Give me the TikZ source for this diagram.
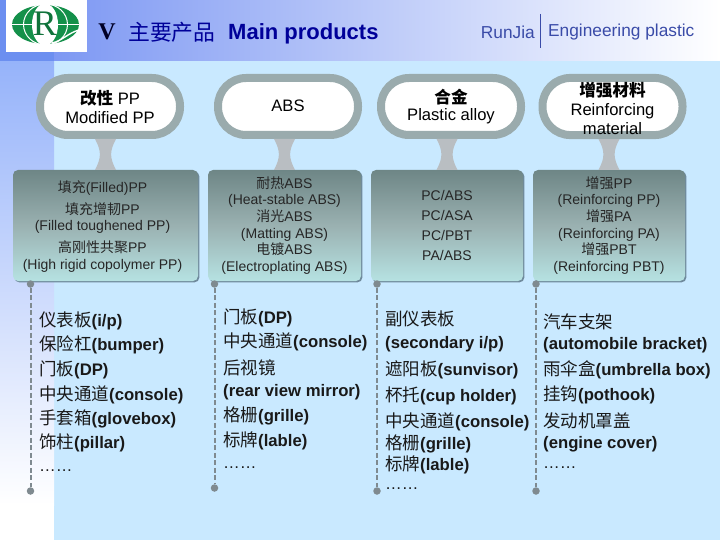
\documentclass[tikz,border=0pt]{standalone}
\usepackage{fontspec}
\usepackage{xcolor}
\setmainfont{Liberation Sans}
\newfontfamily\cjk{Noto Sans CJK SC}
\newcommand{\zh}[1]{{\cjk #1}}
\newcommand{\zhitem}[1]{{\cjk\mdseries\fontsize{17.5}{20}\selectfont #1}}
\usetikzlibrary{calc,shadows}
\definecolor{rjBand}{HTML}{7390F2}
\definecolor{rjCorner}{HTML}{6C8FF0}
\definecolor{rjStrip}{HTML}{96B3FA}
\definecolor{rjPaper}{HTML}{C9E9FF}
\definecolor{rjNavy}{HTML}{000099}
\definecolor{rjSlate}{HTML}{3A4BA8}
\definecolor{rjRing}{HTML}{9AABAD}
\definecolor{rjStem}{HTML}{B9BEC2}
\definecolor{rjBoxTop}{HTML}{6E8686}
\definecolor{rjBoxMid}{HTML}{9AB1B1}
\definecolor{rjBoxEnd}{HTML}{B6E2E2}
\definecolor{rjEdge}{HTML}{6F8A9C}
\definecolor{rjDash}{HTML}{7F8A90}
\definecolor{rjGreen}{HTML}{14904A}
\tikzset{
    every picture/.style={x=1pt, y=-1pt},
    head/.style={draw=rjRing, line width=8pt, fill=white, rounded corners=28pt, align=center, minimum width=140pt, minimum height=57pt, inner sep=0pt, text=black, font=\fontsize{16.6}{19}\selectfont},
    grade/.style={rounded corners=5pt, top color=rjBoxTop, bottom color=rjBoxEnd, middle color=rjBoxMid, general shadow={shadow xshift=1.4pt, shadow yshift=-1.4pt, fill=rjEdge}, align=center, inner sep=0pt, minimum height=111pt, text=black!85, font=\fontsize{14}{16.7}\selectfont},
    gradetext/.style={align=center, inner sep=0pt, text=black!85, font=\fontsize{14}{16.7}\selectfont},
    item/.style={anchor=west, inner sep=0pt, text=black!90, font=\fontsize{16.7}{20}\selectfont\bfseries},
    stem/.style={fill=rjStem},
    dot/.style={circle, fill=rjDash, inner sep=0pt, minimum size=7.5pt},
    dashline/.style={draw=rjDash, line width=2pt, dash pattern=on 5pt off 2.5pt}
}
\begin{document}
\begin{tikzpicture}
\useasboundingbox (0,0) rectangle (720,540);
% background
\fill[rjPaper] (0,61) rectangle (720,540);
\shade[top color=rjStrip, bottom color=white] (0,61) rectangle (54,505);
\fill[white] (0,505) rectangle (54,540);
\shade[left color=rjBand, right color=white] (0,0) rectangle (720,61);
\fill[rjCorner] (0,0) rectangle (54,61);
% logo
\fill[white] (6,0) rectangle (87,52);
\fill[rjGreen] (45.5,24.5) ellipse (33.5 and 19.5);
\draw[white, line width=0.5pt] (12,24.5) -- (79,24.5);
\draw[white, line width=1pt] (45.5,24.5) ellipse (22 and 20.5);
\fill[white] (45,24.5) ellipse (13 and 21);
\node[inner sep=0pt, text=rjGreen!80!black, font=\fontsize{36}{36}\selectfont] (logoR) at (45,24) {\fontspec{Liberation Serif}R};
\draw[white, line width=1.4pt] (52,43) .. controls (62,41) and (68,33) .. (79,30);
% title
\node[inner sep=0pt, text=black!75!rjNavy, font=\fontsize{24}{26}\selectfont\bfseries] (roman) at (107,32) {\fontspec{Liberation Serif}V};
\node[anchor=west, inner sep=0pt, text=rjNavy, font=\fontsize{21.8}{24}\selectfont] (titlezh) at (128,32) {\zh{主要产品}};
\node[anchor=west, inner sep=0pt, text=rjNavy, font=\fontsize{22}{24}\selectfont\bfseries] (titleen) at (228,34) {Main products};
\node[anchor=east, inner sep=0pt, text=rjSlate, font=\fontsize{17.3}{20}\selectfont] (brand) at (535,32) {RunJia};
\node[anchor=west, inner sep=0pt, text=rjSlate, font=\fontsize{17.3}{20}\selectfont] (topic) at (548,32) {Engineering plastic};
\coordinate (ruleTop) at (540.5,14);
\coordinate (ruleEnd) at (540.5,48);
\draw[rjSlate, line width=0.8pt] (ruleTop) -- (ruleEnd);
% top row
\node[head] (headpp) at (110,106.5) {\zh{\bfseries 改性} PP\\Modified PP};
\node[head] (headabs) at (288,106.5) {\raisebox{1.5pt}{ABS}};
\node[head] (headalloy) at (451,106.5) {\zh{\bfseries 合金}\\[-2pt]Plastic alloy};
\node[head] (headreinf) at (612.5,106.5) {\rule{0pt}{19pt}\zh{\bfseries 增强材料}\\Reinforcing\\material};
% grades
\node[grade, minimum width=185pt] (gradepp) at (105.5,225.5) {};
\node[gradetext] (textpp) at ($(gradepp)+(-3,1)$) {\zh{填充}(Filled)PP\\[5pt]\zh{填充增韧}PP\\(Filled toughened PP)\\[5pt]\zh{高刚性共聚}PP\\(High rigid copolymer PP)};
\node[grade, minimum width=153pt] (gradeabs) at (284.5,225.5) {\zh{耐热}ABS\\(Heat-stable ABS)\\\zh{消光}ABS\\(Matting ABS)\\\zh{电镀}ABS\\(Electroplating ABS)};
\node[grade, minimum width=152pt, font=\fontsize{14}{20}\selectfont] (gradealloy) at (447,225.5) {PC/ABS\\PC/ASA\\PC/PBT\\PA/ABS};
\node[grade, minimum width=152pt] (gradereinf) at (609,225.5) {\zh{增强}PP\\(Reinforcing PP)\\\zh{增强}PA\\(Reinforcing PA)\\\zh{增强}PBT\\(Reinforcing PBT)};
% stems
\foreach \col in {pp,abs,alloy,reinf} {
    \fill[stem] ($(grade\col.north |- head\col.south)+(-10.5,0)$) .. controls ($(grade\col.north |- head\col.south)+(-4,12)$) and ($(grade\col.north)+(-4,-12)$) .. ($(grade\col.north)+(-10.5,0)$) -- ($(grade\col.north)+(10.5,0)$) .. controls ($(grade\col.north)+(4,-12)$) and ($(grade\col.north |- head\col.south)+(4,12)$) .. ($(grade\col.north |- head\col.south)+(10.5,0)$) -- cycle;
}
% dashed rails
\foreach \col/\x/\ytop/\yend in {pp/30.5/284/491,abs/214.5/284/488,alloy/377/284/491,reinf/536/284/491} {
    \node[dot] (\col top) at (\x,\ytop) {};
    \node[dot] (\col end) at (\x,\yend) {};
    \draw[dashline] (\col top) -- (\col end);
}
% lists
\foreach \n/\y/\zhtxt/\entxt in {1/321/仪表板/{(i/p)},2/345/保险杠/(bumper),3/370/门板/(DP),4/395/中央通道/(console),5/419/手套箱/(glovebox),6/443/饰柱/(pillar)}
    \node[item] (pp\n) at (39,\y) {\zhitem{\zhtxt}\entxt};
\node[item] (ppdots) at (39,471) {\mdseries ……};
\foreach \n/\y/\zhtxt/\entxt in {1/318/门板/(DP),2/342/中央通道/(console),3/368/后视镜/,4/392/{}/(rear view mirror),5/416/格栅/(grille),6/441/标牌/(lable)}
    \node[item] (abs\n) at (223,\y) {\zhitem{\zhtxt}\entxt};
\node[item] (absdots) at (223,468) {\mdseries ……};
\foreach \n/\y/\zhtxt/\entxt in {1/319/副仪表板/,2/344/{}/{(secondary i/p)},3/370/遮阳板/(sunvisor),4/396/杯托/(cup holder),5/422/中央通道/(console),6/444/格栅/(grille),7/465/标牌/(lable)}
    \node[item] (alloy\n) at (385,\y) {\zhitem{\zhtxt}\entxt};
\node[item] (alloydots) at (385,489) {\mdseries ……};
\foreach \n/\y/\zhtxt/\entxt in {1/322/汽车支架/,2/345/{}/(automobile bracket),3/370/雨伞盒/(umbrella box),4/395/挂钩/(pothook),5/421/发动机罩盖/,6/444/{}/(engine cover)}
    \node[item] (reinf\n) at (543,\y) {\zhitem{\zhtxt}\entxt};
\node[item] (reinfdots) at (543,468) {\mdseries ……};
\end{tikzpicture}
\end{document}
